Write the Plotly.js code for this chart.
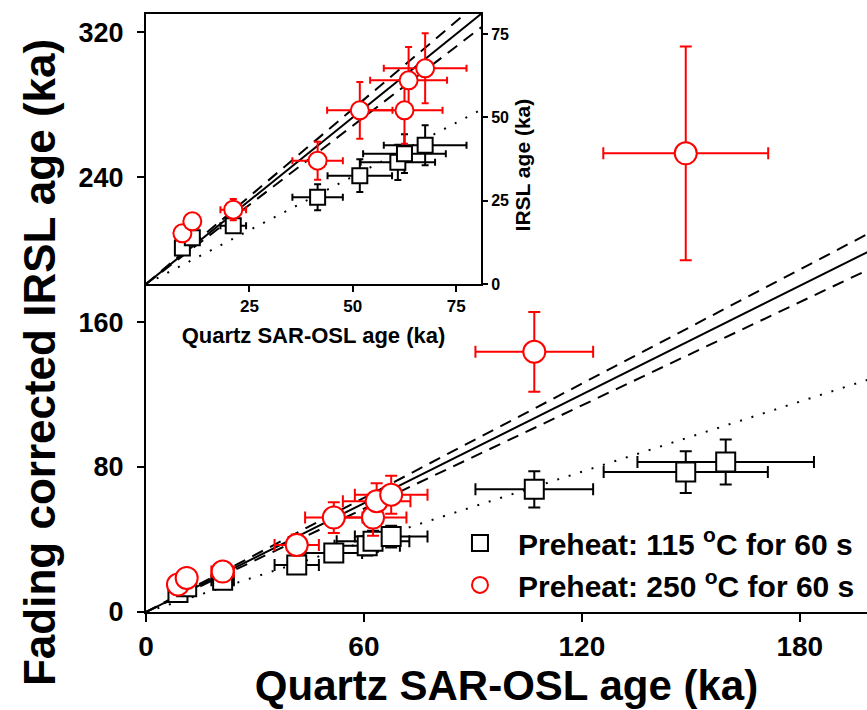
<!DOCTYPE html>
<html>
<head>
<meta charset="utf-8">
<script src="https://cdn.plot.ly/plotly-3.0.1.min.js"></script>
<style>
html,body{margin:0;padding:0;background:#fff;}
#chart{width:867px;height:710px;}
</style>
</head>
<body>
<div id="chart"></div>
<script>
// ---- data ----
const seriesNames = ['Preheat: 115 <sup>o</sup>C for 60 s', 'Preheat: 250 <sup>o</sup>C for 60 s'];

const osl115     = [8.8, 11.2, 21.1, 41.5, 51.7, 60.9, 62.5, 67.5, 106.9, 148.6, 159.6];
const irsl115    = [10.8, 13.9, 17.5, 26.0, 32.5, 36.5, 39.1, 41.6, 67.7, 77.2, 82.8];
const osl115Err  = [1.0, 1.2, 3.1, 6.1, 7.8, 9.0, 10.0, 10.0, 16.2, 22.6, 24.3];
const irsl115Err = [1.0, 1.2, 1.5, 3.9, 4.9, 5.3, 5.8, 6.0, 10.0, 11.5, 12.4];

const osl250     = [8.8, 11.2, 21.1, 41.5, 51.7, 62.5, 63.5, 67.5, 106.9, 148.6];
const irsl250    = [15.2, 18.8, 22.3, 37.0, 52.1, 52.1, 61.1, 64.7, 143.6, 253.1];
const osl250Err  = [1.0, 1.2, 3.1, 6.1, 7.9, 9.2, 9.3, 10.0, 16.2, 22.7];
const irsl250Err = [1.5, 1.5, 3.2, 5.7, 8.5, 10.0, 10.0, 10.5, 22.0, 59.0];

// reference lines y = slope * x : 1:1, +5%, -5%, fading-uncorrected trend
const refSlopes = [1.0, 1.05, 0.95, 0.645];
const refDash   = ['solid', '12px,8px', '12px,8px', '2px,10px'];
const refX      = [0, 200];

const mainXTicks  = [0, 60, 120, 180];
const mainYTicks  = [0, 80, 160, 240, 320];
const insetXTicks = [25, 50, 75];
const insetYTicks = [0, 25, 50, 75];

const mainXTitle  = 'Quartz SAR-OSL age (ka)';
const mainYTitle  = 'Fading corrected IRSL age (ka)';
const insetXTitle = 'Quartz SAR-OSL age (ka)';
const insetYTitle = 'IRSL age (ka)';

// ---- build traces ----
const FONT = 'Liberation Sans, Arial, Helvetica, sans-serif';
const traces = [];

function addRefLines(xa, ya) {
  refSlopes.forEach((s, i) => {
    traces.push({
      x: refX, y: refX.map(v => v * s), xaxis: xa, yaxis: ya,
      mode: 'lines', showlegend: false, hoverinfo: 'skip',
      line: {color: '#000', width: 2, dash: refDash[i]}
    });
  });
}

function addSeries(xa, ya, inset) {
  const ms = inset ? [15, 18] : [19, 22];
  const cap = inset ? 3.5 : 6;
  traces.push({
    x: osl115, y: irsl115, xaxis: xa, yaxis: ya, mode: 'markers',
    name: seriesNames[0], showlegend: !inset,
    marker: {symbol: 'square', size: ms[0], color: '#fff', line: {color: '#000', width: 2}},
    error_x: {type: 'data', array: osl115Err, visible: true, color: '#000', thickness: 2, width: cap},
    error_y: {type: 'data', array: irsl115Err, visible: true, color: '#000', thickness: 2, width: cap}
  });
  traces.push({
    x: osl250, y: irsl250, xaxis: xa, yaxis: ya, mode: 'markers',
    name: seriesNames[1], showlegend: !inset,
    marker: {symbol: 'circle', size: ms[1], color: '#fff', line: {color: '#ff0000', width: 2}},
    error_x: {type: 'data', array: osl250Err, visible: true, color: '#ff0000', thickness: 2, width: cap},
    error_y: {type: 'data', array: irsl250Err, visible: true, color: '#ff0000', thickness: 2, width: cap}
  });
}

addRefLines('x', 'y');
addSeries('x', 'y', false);
addRefLines('x2', 'y2');
addSeries('x2', 'y2', true);

const layout = {
  width: 867, height: 710,
  margin: {l: 146, r: 0, t: 14, b: 98, pad: 0},
  paper_bgcolor: '#fff', plot_bgcolor: 'rgba(0,0,0,0)',
  font: {family: FONT, color: '#000'},
  showlegend: true,
  legend: {
    x: 0.4105, y: 0.159, xanchor: 'left', yanchor: 'top',
    bgcolor: 'rgba(0,0,0,0)', borderwidth: 0,
    font: {family: FONT, size: 30, weight: 'bold', color: '#000'},
    itemwidth: 66, tracegroupgap: 0
  },
  xaxis: {
    domain: [0, 1], range: [0, 198.5], anchor: 'y',
    showgrid: false, zeroline: false, showline: true, linecolor: '#000', linewidth: 2,
    ticks: 'outside', ticklen: 8, tickwidth: 2, tickcolor: '#000',
    tickmode: 'array', tickvals: mainXTicks, ticktext: mainXTicks.map(String),
    tickfont: {family: FONT, size: 28, weight: 'bold'},
    ticklabelstandoff: 0,
    title: {text: mainXTitle, font: {family: FONT, size: 42, weight: 'bold'}, standoff: 2}
  },
  yaxis: {
    domain: [0, 1], range: [0, 330], anchor: 'x',
    showgrid: false, zeroline: false, showline: true, linecolor: '#000', linewidth: 2,
    ticks: 'outside', ticklen: 7, tickwidth: 2, tickcolor: '#000',
    tickmode: 'array', tickvals: mainYTicks, ticktext: mainYTicks.map(String),
    tickfont: {family: FONT, size: 27, weight: 'bold'},
    ticklabelstandoff: 8
  },
  xaxis2: {
    domain: [0, 0.4646], range: [0, 81], anchor: 'y2',
    showgrid: false, zeroline: false, showline: true, mirror: true, linecolor: '#000', linewidth: 2,
    ticks: 'outside', ticklen: 6, tickwidth: 2, tickcolor: '#000',
    tickmode: 'array', tickvals: insetXTicks, ticktext: insetXTicks.map(String),
    tickfont: {family: FONT, size: 17, weight: 'bold'},
    title: {text: insetXTitle, font: {family: FONT, size: 22, weight: 'bold'}, standoff: 12}
  },
  yaxis2: {
    domain: [0.5485, 1], range: [0, 81], anchor: 'x2', side: 'right',
    showgrid: false, zeroline: false, showline: true, mirror: true, linecolor: '#000', linewidth: 2,
    ticks: 'outside', ticklen: 5, tickwidth: 2, tickcolor: '#000',
    tickmode: 'array', tickvals: insetYTicks, ticktext: insetYTicks.map(String),
    tickfont: {family: FONT, size: 16, weight: 'bold'}
  },
  annotations: [
    {
      text: mainYTitle, xref: 'paper', yref: 'paper', x: -0.147, y: 0.4164,
      xanchor: 'center', yanchor: 'middle', textangle: -90, showarrow: false,
      font: {family: FONT, size: 44, weight: 'bold', color: '#000'}
    },
    {
      text: insetYTitle, xref: 'paper', yref: 'paper', x: 0.5225, y: 0.748,
      xanchor: 'center', yanchor: 'middle', textangle: -90, showarrow: false,
      font: {family: FONT, size: 21, weight: 'bold', color: '#000'}
    }
  ]
};

Plotly.newPlot('chart', traces, layout, {displayModeBar: false, staticPlot: true});
</script>
</body>
</html>
